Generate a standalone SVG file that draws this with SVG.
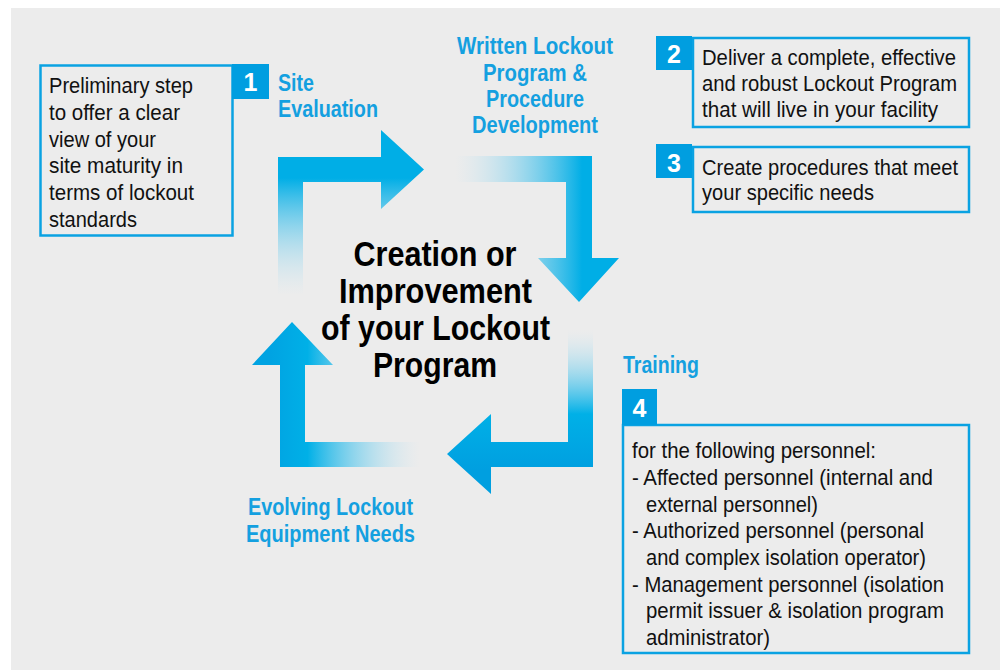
<svg xmlns="http://www.w3.org/2000/svg" width="1000" height="670" viewBox="0 0 1000 670">
<style>
.bg{fill:#ececec}
.box{fill:none;stroke:#0aa2e2;stroke-width:2.5}
.num{fill:#009ee0}
.numt{font-family:"Liberation Sans",Arial,sans-serif;font-weight:bold;font-size:25px;fill:#fff;text-anchor:middle}
.body{font-family:"Liberation Sans Narrow","Liberation Sans",Arial,sans-serif;font-size:22.5px;fill:#111}
.lbl{font-family:"Liberation Sans Narrow","Liberation Sans",Arial,sans-serif;font-weight:bold;font-size:23.5px;fill:#14a0e0}
.title{font-family:"Liberation Sans Narrow","Liberation Sans",Arial,sans-serif;font-weight:bold;font-size:35px;fill:#000}
</style>
<defs>
<linearGradient id="gTL" gradientUnits="userSpaceOnUse" x1="0" y1="178" x2="0" y2="296">
<stop offset="0" stop-color="#00aee6" stop-opacity="1"/>
<stop offset="1" stop-color="#bfe3f4" stop-opacity="0"/>
</linearGradient>
<linearGradient id="gTR" gradientUnits="userSpaceOnUse" x1="455" y1="0" x2="582" y2="0">
<stop offset="0" stop-color="#bfe3f4" stop-opacity="0"/>
<stop offset="1" stop-color="#00aee6" stop-opacity="1"/>
</linearGradient>
<linearGradient id="gBR" gradientUnits="userSpaceOnUse" x1="0" y1="330" x2="0" y2="470">
<stop offset="0" stop-color="#bfe3f4" stop-opacity="0"/>
<stop offset="0.6" stop-color="#00b0e7" stop-opacity="1"/>
<stop offset="1" stop-color="#009fe0" stop-opacity="1"/>
</linearGradient>
<linearGradient id="gBL" gradientUnits="userSpaceOnUse" x1="270" y1="0" x2="420" y2="0">
<stop offset="0" stop-color="#00a3e2" stop-opacity="1"/>
<stop offset="0.25" stop-color="#00b0e7" stop-opacity="1"/>
<stop offset="1" stop-color="#bfe3f4" stop-opacity="0"/>
</linearGradient>
</defs>
<rect class="bg" x="11" y="8" width="989" height="662"/>

<g id="connectors">
<path id="arrow-site-to-written" fill="url(#gTL)" d="M278,157 L381,157 L381,130 L424,169.5 L381,209 L381,182 L303,182 L303,294 L278,294 Z"/>
<path id="arrow-written-to-training" fill="url(#gTR)" d="M455,156 L592,156 L592,258 L619,258 L579,302 L538,258 L566,258 L566,182 L455,182 Z"/>
<path id="arrow-training-to-evolving" fill="url(#gBR)" d="M593,330 L593,467 L491,467 L491,494 L447,454 L491,414 L491,442 L568,442 L568,330 Z"/>
<path id="arrow-evolving-to-site" fill="url(#gBL)" d="M280,467 L420,467 L420,442 L305,442 L305,365 L333,365 L292,322 L252,365 L280,365 Z"/>
</g>

<g id="center">
<text class="title" x="435" y="266" text-anchor="middle" textLength="163" lengthAdjust="spacingAndGlyphs">Creation or</text>
<text class="title" x="435.5" y="303" text-anchor="middle" textLength="193" lengthAdjust="spacingAndGlyphs">Improvement</text>
<text class="title" x="435.5" y="340" text-anchor="middle" textLength="229" lengthAdjust="spacingAndGlyphs">of your Lockout</text>
<text class="title" x="435" y="377" text-anchor="middle" textLength="124" lengthAdjust="spacingAndGlyphs">Program</text>
</g>

<g id="step1">
<rect class="box" x="40.5" y="65.5" width="192" height="170"/>
<rect class="num" x="232" y="64" width="37" height="35"/>
<text class="numt" x="250.5" y="91">1</text>
<text class="lbl" x="278" y="91" textLength="36" lengthAdjust="spacingAndGlyphs">Site</text>
<text class="lbl" x="278" y="117" textLength="100" lengthAdjust="spacingAndGlyphs">Evaluation</text>
<text class="body" x="49" y="93" textLength="144" lengthAdjust="spacingAndGlyphs">Preliminary step</text>
<text class="body" x="49" y="120" textLength="131" lengthAdjust="spacingAndGlyphs">to offer a clear</text>
<text class="body" x="49" y="147" textLength="107" lengthAdjust="spacingAndGlyphs">view of your</text>
<text class="body" x="49" y="173" textLength="134" lengthAdjust="spacingAndGlyphs">site maturity in</text>
<text class="body" x="49" y="200" textLength="145" lengthAdjust="spacingAndGlyphs">terms of lockout</text>
<text class="body" x="49" y="227" textLength="88" lengthAdjust="spacingAndGlyphs">standards</text>
</g>

<g id="label-written">
<text class="lbl" x="535" y="54" text-anchor="middle" textLength="156" lengthAdjust="spacingAndGlyphs">Written Lockout</text>
<text class="lbl" x="535" y="81" text-anchor="middle" textLength="104" lengthAdjust="spacingAndGlyphs">Program &amp;</text>
<text class="lbl" x="535" y="107" text-anchor="middle" textLength="98" lengthAdjust="spacingAndGlyphs">Procedure</text>
<text class="lbl" x="535" y="133" text-anchor="middle" textLength="126" lengthAdjust="spacingAndGlyphs">Development</text>
</g>

<g id="step2">
<rect class="box" x="693" y="38" width="276" height="89"/>
<rect class="num" x="656" y="36" width="36" height="34"/>
<text class="numt" x="674" y="63">2</text>
<text class="body" x="702" y="65" textLength="254" lengthAdjust="spacingAndGlyphs">Deliver a complete, effective</text>
<text class="body" x="702" y="91" textLength="255" lengthAdjust="spacingAndGlyphs">and robust Lockout Program</text>
<text class="body" x="702" y="117" textLength="236" lengthAdjust="spacingAndGlyphs">that will live in your facility</text>
</g>

<g id="step3">
<rect class="box" x="693" y="147" width="276" height="65"/>
<rect class="num" x="656" y="144" width="36" height="34"/>
<text class="numt" x="674" y="172">3</text>
<text class="body" x="702" y="175" textLength="256" lengthAdjust="spacingAndGlyphs">Create procedures that meet</text>
<text class="body" x="702" y="200" textLength="172" lengthAdjust="spacingAndGlyphs">your specific needs</text>
</g>

<g id="step4">
<text class="lbl" x="623" y="373" textLength="76" lengthAdjust="spacingAndGlyphs">Training</text>
<rect class="box" x="623" y="425" width="346" height="228"/>
<rect class="num" x="622" y="389" width="35" height="36"/>
<text class="numt" x="639.5" y="417">4</text>
<text class="body" x="632" y="458" textLength="244" lengthAdjust="spacingAndGlyphs">for the following personnel:</text>
<text class="body" x="632" y="485" textLength="301" lengthAdjust="spacingAndGlyphs">- Affected personnel (internal and</text>
<text class="body" x="646" y="512" textLength="172" lengthAdjust="spacingAndGlyphs">external personnel)</text>
<text class="body" x="632" y="538" textLength="292" lengthAdjust="spacingAndGlyphs">- Authorized personnel (personal</text>
<text class="body" x="646" y="565" textLength="280" lengthAdjust="spacingAndGlyphs">and complex isolation operator)</text>
<text class="body" x="632" y="592" textLength="312" lengthAdjust="spacingAndGlyphs">- Management personnel (isolation</text>
<text class="body" x="646" y="618" textLength="298" lengthAdjust="spacingAndGlyphs">permit issuer &amp; isolation program</text>
<text class="body" x="646" y="645" textLength="124" lengthAdjust="spacingAndGlyphs">administrator)</text>
</g>

<g id="label-evolving">
<text class="lbl" x="330.5" y="515" text-anchor="middle" textLength="165" lengthAdjust="spacingAndGlyphs">Evolving Lockout</text>
<text class="lbl" x="330.5" y="542" text-anchor="middle" textLength="169" lengthAdjust="spacingAndGlyphs">Equipment Needs</text>
</g>
</svg>
